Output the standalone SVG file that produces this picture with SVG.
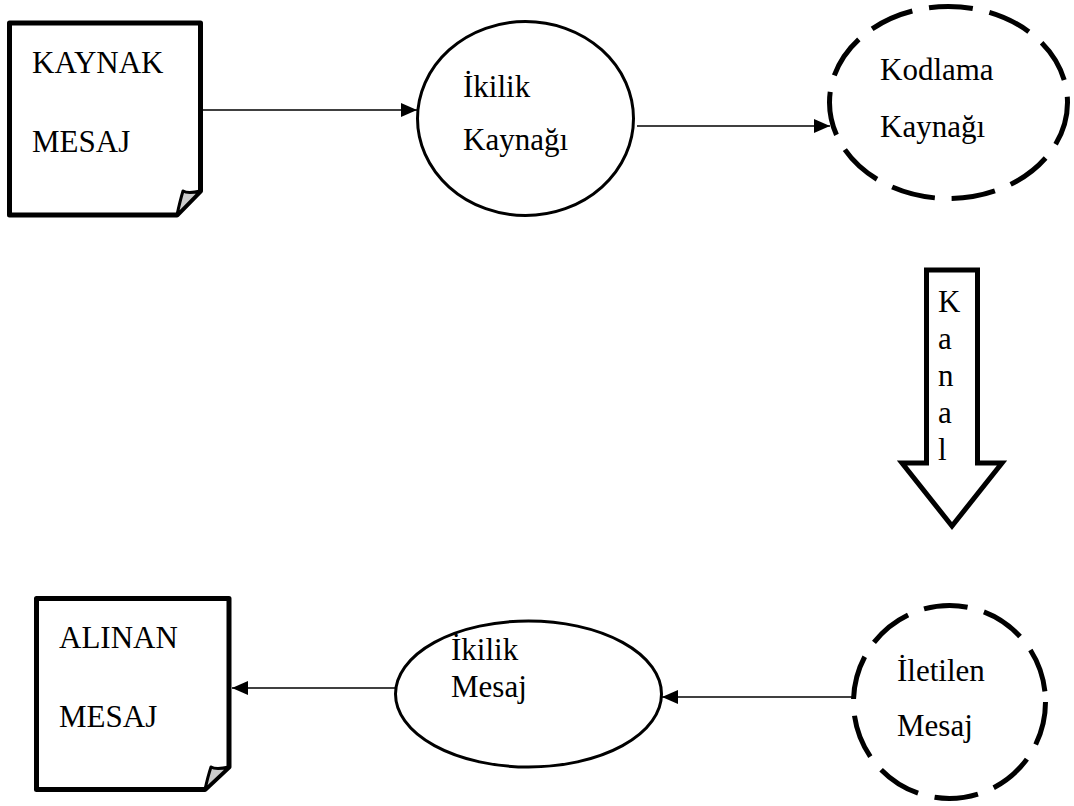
<svg xmlns="http://www.w3.org/2000/svg" width="1074" height="806" viewBox="0 0 1074 806">
<style>
text{font-family:"Liberation Serif","Times New Roman",serif;font-size:31px;fill:#000}
.doc{fill:#fff;stroke:#000;stroke-width:5;stroke-linejoin:round}
.fold{fill:#ccc;stroke:#000;stroke-width:3;stroke-linejoin:round}
.solid{fill:#fff;stroke:#000;stroke-width:3}
.dash{fill:#fff;stroke:#000;stroke-width:5;stroke-dasharray:44 17}
.conn{fill:none;stroke:#000;stroke-width:1.5}
.big{fill:#fff;stroke:#000;stroke-width:5;stroke-linejoin:miter}
</style>
<defs>
<marker id="ah" markerUnits="userSpaceOnUse" markerWidth="16" markerHeight="14" refX="16" refY="7" orient="auto">
<path d="M0,0 L16,7 L0,14 Z" fill="#000"/>
</marker>
</defs>
<rect width="1074" height="806" fill="#fff"/>
<g id="connectors">
<line class="conn" x1="203" y1="110" x2="417" y2="110" marker-end="url(#ah)"/>
<line class="conn" x1="637" y1="126" x2="830" y2="126" marker-end="url(#ah)"/>
<line class="conn" x1="853" y1="697" x2="662" y2="697" marker-end="url(#ah)"/>
<line class="conn" x1="395" y1="688" x2="232" y2="688" marker-end="url(#ah)"/>
</g>
<g id="kaynak-mesaj">
<path class="doc" d="M9.5,23 H200.5 V191 L177,215 H9.5 Z"/>
<path class="fold" d="M177,215 Q180,201 183,191 Q188,194 200.5,191 Z"/>
<text x="32" y="73">KAYNAK</text>
<text x="32" y="152">MESAJ</text>
</g>
<g id="ikilik-kaynagi">
<ellipse class="solid" cx="525.5" cy="118.5" rx="108" ry="97"/>
<text x="463" y="97">İkilik</text>
<text x="463" y="150">Kaynağı</text>
</g>
<g id="kodlama-kaynagi">
<ellipse class="dash" cx="948.5" cy="102.5" rx="119" ry="96"/>
<text x="880" y="80">Kodlama</text>
<text x="880" y="137">Kaynağı</text>
</g>
<g id="kanal">
<path class="big" d="M926.5,270 H977.5 V463 H1002 L952,526 L902,463 H926.5 Z"/>
<text x="938" y="312">K</text>
<text x="938" y="349">a</text>
<text x="938" y="386">n</text>
<text x="938" y="423">a</text>
<text x="938" y="460">l</text>
</g>
<g id="iletilen-mesaj">
<ellipse class="dash" cx="949.5" cy="702" rx="96" ry="96.5"/>
<text x="897" y="681">İletilen</text>
<text x="897" y="736">Mesaj</text>
</g>
<g id="ikilik-mesaj">
<ellipse class="solid" cx="528.5" cy="694" rx="133" ry="73"/>
<text x="451" y="660">İkilik</text>
<text x="451" y="697">Mesaj</text>
</g>
<g id="alinan-mesaj">
<path class="doc" d="M36.5,598.5 H229 V767 L205,789.5 H36.5 Z"/>
<path class="fold" d="M205,789.5 Q208,776 211,767 Q216,770 229,767 Z"/>
<text x="59" y="648">ALINAN</text>
<text x="59" y="727">MESAJ</text>
</g>
</svg>
